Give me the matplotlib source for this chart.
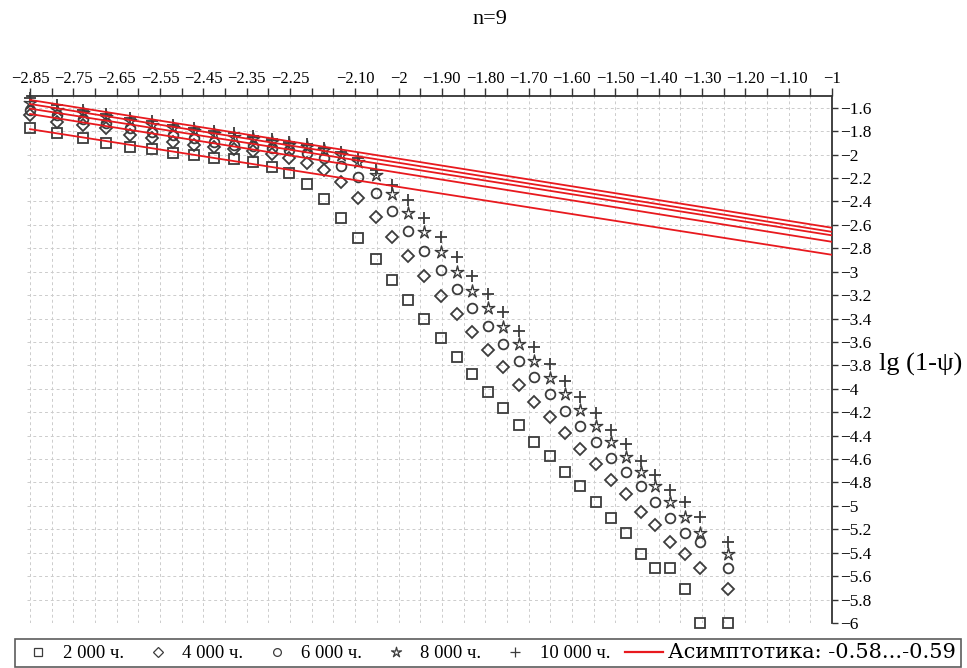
import numpy as np
import matplotlib
matplotlib.use("Agg")
import matplotlib.pyplot as plt
from matplotlib.lines import Line2D
from matplotlib.path import Path

# lg(t) grid shared by all series
lg_t = [-2.85, -2.788, -2.728, -2.675, -2.619, -2.569, -2.520, -2.472, -2.426, -2.379,
        -2.336, -2.292, -2.253, -2.211, -2.172, -2.133, -2.093, -2.052, -2.015, -1.978,
        -1.941, -1.902, -1.865, -1.830, -1.793, -1.759, -1.722, -1.687, -1.650, -1.616,
        -1.581, -1.544, -1.510, -1.475, -1.441, -1.408, -1.374, -1.339, -1.305, -1.240]

h2000 = [-1.771, -1.814, -1.856, -1.899, -1.933, -1.950, -1.984, -2.002, -2.027, -2.036,
         -2.061, -2.104, -2.155, -2.249, -2.377, -2.540, -2.711, -2.890, -3.069, -3.240,
         -3.403, -3.565, -3.727, -3.873, -4.026, -4.167, -4.308, -4.454, -4.573, -4.710,
         -4.829, -4.966, -5.103, -5.231, -5.410, -5.530, -5.530, -5.709, -6.0, -6.0]
h4000 = [-1.660, -1.720, -1.745, -1.771, -1.831, -1.856, -1.890, -1.916, -1.933, -1.950,
         -1.967, -1.993, -2.027, -2.070, -2.130, -2.232, -2.369, -2.531, -2.702, -2.864,
         -3.035, -3.206, -3.360, -3.514, -3.667, -3.813, -3.966, -4.112, -4.240, -4.377,
         -4.513, -4.641, -4.778, -4.898, -5.052, -5.163, -5.308, -5.410, -5.530, -5.709]
h6000 = [-1.617, -1.660, -1.694, -1.728, -1.771, -1.805, -1.831, -1.856, -1.890, -1.916,
         -1.925, -1.942, -1.959, -1.984, -2.027, -2.096, -2.189, -2.326, -2.480, -2.651,
         -2.822, -2.984, -3.146, -3.309, -3.462, -3.616, -3.761, -3.898, -4.043, -4.189,
         -4.317, -4.454, -4.590, -4.710, -4.829, -4.966, -5.103, -5.231, -5.308, -5.530]
h8000 = [-1.557, -1.617, -1.643, -1.677, -1.711, -1.745, -1.771, -1.797, -1.822, -1.848,
         -1.865, -1.890, -1.916, -1.933, -1.959, -2.002, -2.061, -2.172, -2.335, -2.497,
         -2.659, -2.830, -3.001, -3.163, -3.309, -3.471, -3.616, -3.761, -3.907, -4.043,
         -4.180, -4.317, -4.454, -4.582, -4.710, -4.829, -4.966, -5.094, -5.231, -5.410]
h10000 = [-1.515, -1.574, -1.617, -1.651, -1.685, -1.711, -1.745, -1.771, -1.797, -1.814,
          -1.839, -1.865, -1.890, -1.908, -1.942, -1.976, -2.027, -2.130, -2.258, -2.386,
          -2.540, -2.702, -2.873, -3.035, -3.189, -3.343, -3.505, -3.642, -3.787, -3.932,
          -4.069, -4.206, -4.351, -4.471, -4.616, -4.735, -4.864, -4.966, -5.094, -5.308]

series_labels = ["2 000 ч.", "4 000 ч.", "6 000 ч.", "8 000 ч.", "10 000 ч."]

# asymptotes y = a*x + b, one per series
asym_slope = [-0.58, -0.59, -0.585, -0.59, -0.59]
asym_intercept = [-3.436, -3.335, -3.275, -3.25, -3.215]
asym_label = "Асимптотика: -0.58...-0.59"

x_label_ticks = [-2.85, -2.75, -2.65, -2.55, -2.45, -2.35, -2.25, -2.10, -2.0, -1.90,
                 -1.80, -1.70, -1.60, -1.50, -1.40, -1.30, -1.20, -1.10, -1.0]
x_label_text = ["−2.85", "−2.75", "−2.65", "−2.55", "−2.45", "−2.35", "−2.25", "−2.10",
                "−2", "−1.90", "−1.80", "−1.70", "−1.60", "−1.50", "−1.40", "−1.30",
                "−1.20", "−1.10", "−1"]
y_ticks = [-6.0, -5.8, -5.6, -5.4, -5.2, -5.0, -4.8, -4.6, -4.4, -4.2, -4.0, -3.8,
           -3.6, -3.4, -3.2, -3.0, -2.8, -2.6, -2.4, -2.2, -2.0, -1.8, -1.6]


def fmt_y(v):
    if abs(v - round(v)) < 1e-9:
        return "−%d" % abs(round(v))
    return "−%.1f" % abs(v)


def thin_star(inner=0.32):
    """5-point star with narrow arms, like the Maple star symbol"""
    ang = np.deg2rad(90 + 36 * np.arange(10))
    r = np.where(np.arange(10) % 2 == 0, 1.0, inner)
    verts = np.column_stack([r * np.cos(ang), r * np.sin(ang)])
    verts = np.vstack([verts, verts[:1]])
    codes = [Path.MOVETO] + [Path.LINETO] * 9 + [Path.CLOSEPOLY]
    return Path(verts, codes)


def main():
    plt.rcParams["font.family"] = ["Liberation Serif", "DejaVu Serif"]
    gray = "#3c3c3c"
    red = "#e8191e"

    fig = plt.figure(figsize=(9.67, 6.68), dpi=100)
    ax = fig.add_axes([27 / 967, 1 - 623 / 668, (832 - 27) / 967, (623 - 96) / 668])
    ax.set_xlim(-2.857, -1.0)
    ax.set_ylim(-6.0, -1.5)

    # grid
    x_grid = np.arange(-2.85, -0.999, 0.05)
    for xv in x_grid:
        ax.axvline(xv, color="#cccccc", lw=0.7, ls=(0, (3, 3)), zorder=0)
    for yv in y_ticks:
        ax.axhline(yv, color="#cccccc", lw=0.7, ls=(0, (3, 3)), zorder=0)

    series = [h2000, h4000, h6000, h8000, h10000]
    markers = ["s", "D", "o", thin_star(), "+"]
    sizes = [7.5, 6.0, 7, 9.5, 9]
    widths = [1.3, 1.3, 1.3, 1.0, 1.3]
    handles = []
    for ys, m, ms, mw in zip(series, markers, sizes, widths):
        ax.plot(lg_t, ys, ls="none", marker=m, ms=ms, mfc="none", mec=gray,
                mew=mw, zorder=2, clip_on=False)
        handles.append(Line2D([], [], ls="none", marker=m, ms=ms * 0.8,
                              mfc="none", mec=gray, mew=0.9))

    x_line = np.array([-2.85, -1.0])
    for a, b in zip(asym_slope, asym_intercept):
        ax.plot(x_line, a * x_line + b, color=red, lw=1.3, zorder=3)
    handles.append(Line2D([], [], color=red, lw=1.6))

    # axes at top and right
    for side in ["left", "bottom"]:
        ax.spines[side].set_visible(False)
    for side in ["top", "right"]:
        ax.spines[side].set_color("#333333")
        ax.spines[side].set_linewidth(1.3)

    ax.xaxis.tick_top()
    ax.yaxis.tick_right()
    ax.set_xticks(x_label_ticks)
    ax.set_xticklabels(x_label_text)
    ax.set_xticks(x_grid, minor=True)
    ax.set_yticks(y_ticks)
    ax.set_yticklabels([fmt_y(v) for v in y_ticks])
    ax.tick_params(axis="x", which="both", direction="out", length=5.5, width=1.0,
                   color="#333333", labelsize=12, pad=1)
    ax.tick_params(axis="y", direction="out", length=4.5, width=1.0,
                   color="#333333", labelsize=12.5, pad=1.5)

    fig.text(490 / 967, 1 - 20 / 668, "n=9", ha="center", va="center", fontsize=16)
    fig.text(879 / 967, 1 - 364 / 668, "lg (1-ψ)", ha="left", va="center", fontsize=19)

    leg = fig.legend(handles, series_labels + [asym_label], loc="lower left",
                     bbox_to_anchor=(15 / 967, 1 / 668), ncol=6, fontsize=13.5,
                     frameon=True, fancybox=False, handlelength=2.0,
                     handletextpad=0.3, columnspacing=0.8, borderpad=0.25,
                     borderaxespad=0)
    leg.get_texts()[-1].set_fontfamily("DejaVu Serif")
    leg.get_texts()[-1].set_fontsize(15)
    leg.get_frame().set_edgecolor("#333333")
    leg.get_frame().set_linewidth(1.2)

    fig.savefig("out.png", dpi=100)
    plt.close(fig)


if __name__ == "__main__":
    main()
